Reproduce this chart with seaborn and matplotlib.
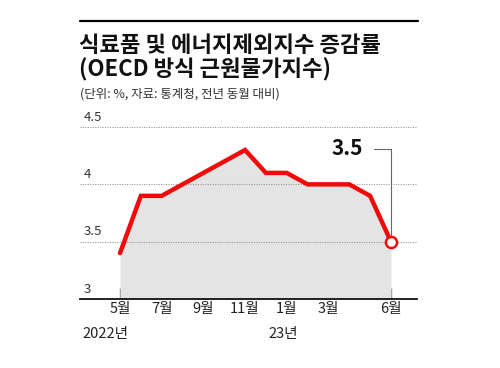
import pandas as pd
import seaborn as sns
import matplotlib.pyplot as plt

sns.set_theme(style="white")
plt.rcParams['font.family'] = ['Noto Sans CJK KR', 'DejaVu Sans']

# 2022년 5월 ~ 2023년 6월, 전년 동월 대비 증감률(%)
months = list(range(14))
values = [3.4, 3.9, 3.9, 4.0, 4.1, 4.2, 4.3, 4.1, 4.1, 4.0, 4.0, 4.0, 3.9, 3.5]
tick_pos = [0, 2, 4, 6, 8, 10, 13]
tick_labels = ['5월', '7월', '9월', '11월', '1월', '3월', '6월']
y_ticks = [3, 3.5, 4, 4.5]
y_labels = ['3', '3.5', '4', '4.5']

df = pd.DataFrame({'month': months, 'value': values})

red = '#f00a0a'
fig = plt.figure(figsize=(5, 3.68), dpi=100)
ax = fig.add_axes([0.16, 0.1875, 0.674, 0.4984])

ax.fill_between(df['month'], df['value'], 3, color='#e4e4e4', lw=0, zorder=1)
sns.lineplot(data=df, x='month', y='value', color=red, lw=3.2, ax=ax, zorder=3,
             solid_joinstyle='miter')
# 마지막 값 표시
ax.plot(months[-1], values[-1], 'o', ms=8, mfc='white', mec=red, mew=1.8, zorder=4)

ax.set_xlim(-1.92, 14.25)
ax.set_ylim(3, 4.6)

# 점선 눈금선
for v in y_ticks[1:]:
    ax.axhline(v, color='#999999', ls=(0, (1, 1.2)), lw=0.8, zorder=2)
for v, lab in zip(y_ticks, y_labels):
    ax.text(0.01, v + 0.03, lab, transform=ax.get_yaxis_transform(),
            ha='left', va='bottom', fontsize=9.5, color='#333333')

ax.set_yticks([])
ax.set_xticks(tick_pos)
ax.set_xticklabels(tick_labels, fontsize=10.5, color='#222222')
ax.tick_params(axis='x', direction='in', length=8, width=1, color='#777777',
               pad=2, bottom=True)
ax.set_xlabel('')
ax.set_ylabel('')
for s in ['top', 'right', 'left']:
    ax.spines[s].set_visible(False)
ax.spines['bottom'].set_color('#111111')
ax.spines['bottom'].set_linewidth(1.3)

# 연도 표시
ax.text(-0.7, -0.15, '2022년', transform=ax.get_xaxis_transform(),
        ha='center', va='top', fontsize=10.5, color='#222222')
ax.text(7.85, -0.15, '23년', transform=ax.get_xaxis_transform(),
        ha='center', va='top', fontsize=10.5, color='#222222')

# 최근값 주석
ax.annotate(f'{values[-1]}', xy=(months[-1], values[-1]), xytext=(11.65, 4.31),
            ha='right', va='center', fontsize=15, fontweight='bold', color='#111111',
            arrowprops=dict(arrowstyle='-', color='#666666', lw=0.8,
                            connectionstyle='angle,angleA=0,angleB=90,rad=0',
                            relpos=(1, 0.5), shrinkA=6, shrinkB=5))

# 제목
fig.add_artist(plt.Line2D([0.16, 0.836], [1 - 20.5 / 368] * 2, color='black', lw=1.6))
fig.text(0.158, 1 - 45 / 368, '식료품 및 에너지제외지수 증감률', fontsize=16,
         fontweight='bold', ha='left', va='center', color='#111111')
fig.text(0.158, 1 - 70 / 368, '(OECD 방식 근원물가지수)', fontsize=16,
         fontweight='bold', ha='left', va='center', color='#111111')
fig.text(0.16, 1 - 94 / 368, '(단위: %, 자료: 통계청, 전년 동월 대비)', fontsize=9,
         ha='left', va='center', color='#333333')

fig.savefig('out.png', dpi=100)
